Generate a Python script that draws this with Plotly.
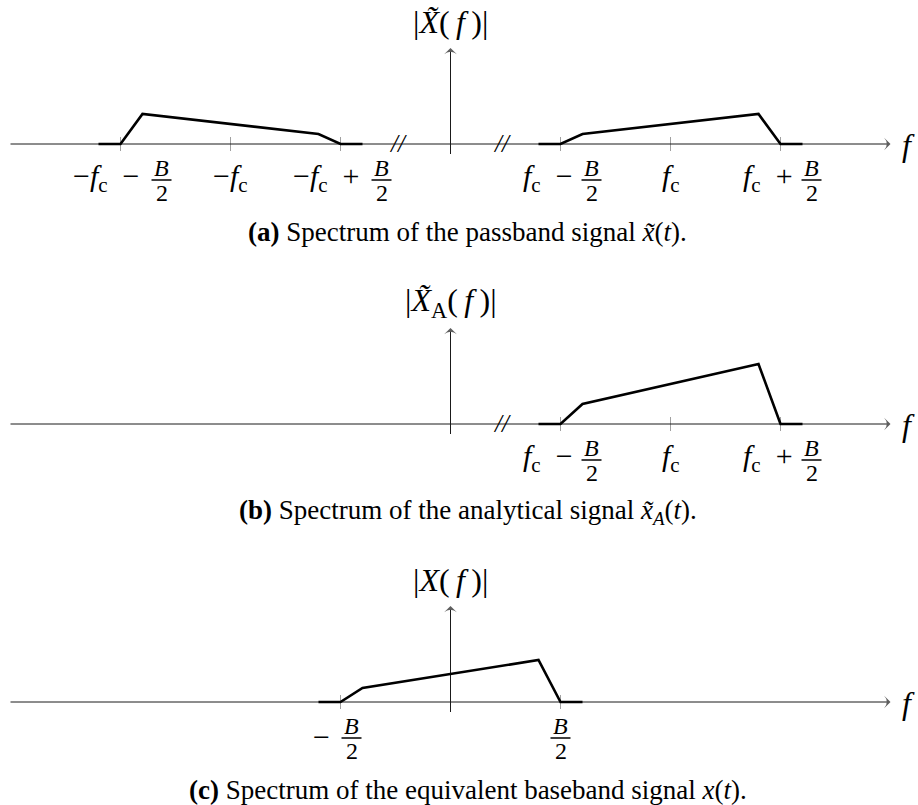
import plotly.graph_objects as go

# Frequencies are measured in units of B/2; the carrier sits at fc = 2 (fc = B).
# Passband spectrum |X~(f)|, negative and positive halves
pass_neg_f = [-3.2, -3.0, -2.8, -1.2, -1.0, -0.8]
pass_neg_mag = [0, 0, 3.0, 1.0, 0, 0]
pass_pos_f = [0.8, 1.0, 1.2, 2.8, 3.0, 3.2]
pass_pos_mag = [0, 0, 1.0, 3.0, 0, 0]

# Analytic signal spectrum |X~_A(f)| (positive frequencies doubled)
ana_f = [0.8, 1.0, 1.2, 2.8, 3.0, 3.2]
ana_mag = [0, 0, 2.0, 6.0, 0, 0]

# Equivalent baseband spectrum |X(f)|
base_f = [-1.2, -1.0, -0.8, 0.8, 1.0, 1.2]
base_mag = [0, 0, 1.4, 4.2, 0, 0]

FC_TXT = "<i>f</i><sub>c</sub>"
SP = "\u2009"          # thin space
MSP = "\u2002"         # en space around binary operators

# Tick positions and their labels: (prefix, has B/2 fraction)
ticks_a = [-3, -2, -1, 1, 2, 3]
ticklabels_a = [
    ("−" + FC_TXT + MSP + "−", True),
    ("−" + FC_TXT, False),
    ("−" + FC_TXT + MSP + "+", True),
    (FC_TXT + MSP + "−", True),
    (FC_TXT, False),
    (FC_TXT + MSP + "+", True),
]
ticks_b = [1, 2, 3]
ticklabels_b = [
    (FC_TXT + MSP + "−", True),
    (FC_TXT, False),
    (FC_TXT + MSP + "+", True),
]
ticks_c = [-1, 1]
ticklabels_c = [("−", True), ("", True)]

# Axis-break positions on the frequency axis
breaks_a = [-0.48, 0.47]
breaks_b = [0.47]
breaks_c = []

ylabels = [
    "|<i>X̃</i>(" + SP + "<i>f</i>" + SP + ")|",
    "|<i>X̃</i><sub>A</sub>(" + SP + "<i>f</i>" + SP + ")|",
    "|<i>X</i>(" + SP + "<i>f</i>" + SP + ")|",
]
captions = [
    "<b>(a)</b> Spectrum of the passband signal <i>x̃</i>(<i>t</i>).",
    "<b>(b)</b> Spectrum of the analytical signal <i>x̃</i><sub><i>A</i></sub>(<i>t</i>).",
    "<b>(c)</b> Spectrum of the equivalent baseband signal <i>x</i>(<i>t</i>).",
]

W, H = 918, 805
FONT = "Liberation Serif"
X_ORIGIN_PX = 450.5
X_SCALE = 110.0       # px per B/2
Y_SCALE = 10.0        # px per magnitude unit
ZERO_PX = [144, 424, 702]
X_AXIS_END = 4.0
Y_AXIS_TOP = 9.6
Y_AXIS_BOTTOM = -1.0

x_range = [-X_ORIGIN_PX / X_SCALE, (W - X_ORIGIN_PX) / X_SCALE]

fig = go.Figure()
layout = dict(
    width=W, height=H,
    margin=dict(l=0, r=0, t=0, b=0),
    paper_bgcolor="white", plot_bgcolor="white",
    showlegend=False,
    font=dict(family=FONT, color="black"),
)
for i, zp in enumerate(ZERO_PX, start=1):
    sx = "" if i == 1 else str(i)
    xa = dict(range=x_range, domain=[0, 1], visible=False, fixedrange=True,
              anchor="y" + sx)
    ya = dict(range=[(zp - H) / Y_SCALE, zp / Y_SCALE], domain=[0, 1],
              visible=False, fixedrange=True, anchor="x" + sx)
    if i > 1:
        xa["overlaying"] = "x"
        ya["overlaying"] = "y"
    layout["xaxis" + sx] = xa
    layout["yaxis" + sx] = ya
fig.update_layout(**layout)

annotations = []
shapes = []

spectra = [
    [(pass_neg_f, pass_neg_mag), (pass_pos_f, pass_pos_mag)],
    [(ana_f, ana_mag)],
    [(base_f, base_mag)],
]
all_ticks = [ticks_a, ticks_b, ticks_c]
all_ticklabels = [ticklabels_a, ticklabels_b, ticklabels_c]
all_breaks = [breaks_a, breaks_b, breaks_c]

CAPTION_X = 468 / W
MATH = 30
FRAC = 24
AXIS_COLOR = "#1a1a1a"


def axis_arrow(xs, ys, xr, yr):
    """Thin axis line ending in an arrow head at its last point."""
    return go.Scatter(
        x=xs, y=ys, xaxis=xr, yaxis=yr, mode="lines+markers",
        hoverinfo="skip", line=dict(color=AXIS_COLOR, width=1),
        marker=dict(symbol=["circle", "arrow-wide"], size=[0, 9],
                    angleref="previous", color=AXIS_COLOR,
                    line=dict(width=0)),
    )


for k in range(3):
    sx = "" if k == 0 else str(k + 1)
    xr, yr = "x" + sx, "y" + sx

    # small grey tick marks on the frequency axis
    fig.add_trace(go.Scatter(
        x=all_ticks[k], y=[0] * len(all_ticks[k]), xaxis=xr, yaxis=yr,
        mode="markers", hoverinfo="skip",
        marker=dict(symbol="line-ns", size=10, color="#a0a0a0",
                    line=dict(width=1, color="#a0a0a0")),
    ))

    # frequency axis and magnitude axis
    fig.add_trace(axis_arrow([-X_AXIS_END, X_AXIS_END], [0, 0], xr, yr))
    fig.add_trace(axis_arrow([0, 0], [Y_AXIS_BOTTOM, Y_AXIS_TOP], xr, yr))

    # spectrum curves
    for fx, mag in spectra[k]:
        fig.add_trace(go.Scatter(
            x=fx, y=mag, xaxis=xr, yaxis=yr, mode="lines", hoverinfo="skip",
            line=dict(color="black", width=2.6),
        ))

    # axis labels
    annotations.append(dict(
        x=0, y=Y_AXIS_TOP, xref=xr, yref=yr, text=ylabels[k], showarrow=False,
        yshift=26, xanchor="center", yanchor="middle",
        font=dict(family=FONT, size=32)))
    annotations.append(dict(
        x=X_AXIS_END, y=0, xref=xr, yref=yr, text="<i>f</i>", showarrow=False,
        xshift=18, yshift=-1, xanchor="center", yanchor="middle",
        font=dict(family=FONT, size=32)))

    # axis breaks
    for b in all_breaks[k]:
        annotations.append(dict(
            x=b, y=0, xref=xr, yref=yr, text="<i>//</i>", showarrow=False,
            xanchor="center", yanchor="middle", yshift=1,
            font=dict(family=FONT, size=25, color="black")))

    # tick labels, with stacked B/2 fractions
    LY = -34
    for t, (prefix, frac) in zip(all_ticks[k], all_ticklabels[k]):
        if not frac:
            annotations.append(dict(
                x=t, y=0, xref=xr, yref=yr, text=prefix, showarrow=False,
                xanchor="center", yanchor="middle", yshift=LY,
                font=dict(family=FONT, size=MATH)))
            continue
        if prefix.startswith("−<i>"):
            pr, fc = 21, 41
        elif prefix == "":
            pr, fc = 0, 0
        elif prefix == "−":
            pr, fc = -9, 11
        else:
            pr, fc = 14, 31
        if prefix:
            annotations.append(dict(
                x=t, y=0, xref=xr, yref=yr, text=prefix, showarrow=False,
                xanchor="right", yanchor="middle", yshift=LY, xshift=pr,
                font=dict(family=FONT, size=MATH)))
        annotations.append(dict(
            x=t, y=0, xref=xr, yref=yr, text="<i>B</i>", showarrow=False,
            xanchor="center", yanchor="bottom", yshift=LY - 5, xshift=fc,
            font=dict(family=FONT, size=FRAC)))
        annotations.append(dict(
            x=t, y=0, xref=xr, yref=yr, text="2", showarrow=False,
            xanchor="center", yanchor="top", yshift=LY, xshift=fc,
            font=dict(family=FONT, size=FRAC)))
        shapes.append(dict(
            type="line", xref=xr, yref=yr, xsizemode="pixel",
            ysizemode="pixel", xanchor=t, yanchor=0,
            x0=fc - 10, x1=fc + 10, y0=LY - 2, y1=LY - 2,
            line=dict(color="black", width=1.5)))

    # caption
    annotations.append(dict(
        x=CAPTION_X, y=0, xref="paper", yref=yr, text=captions[k],
        showarrow=False, xanchor="center", yanchor="middle", yshift=-88,
        font=dict(family=FONT, size=27)))

fig.update_layout(annotations=annotations, shapes=shapes)
fig.write_html("out.html")
